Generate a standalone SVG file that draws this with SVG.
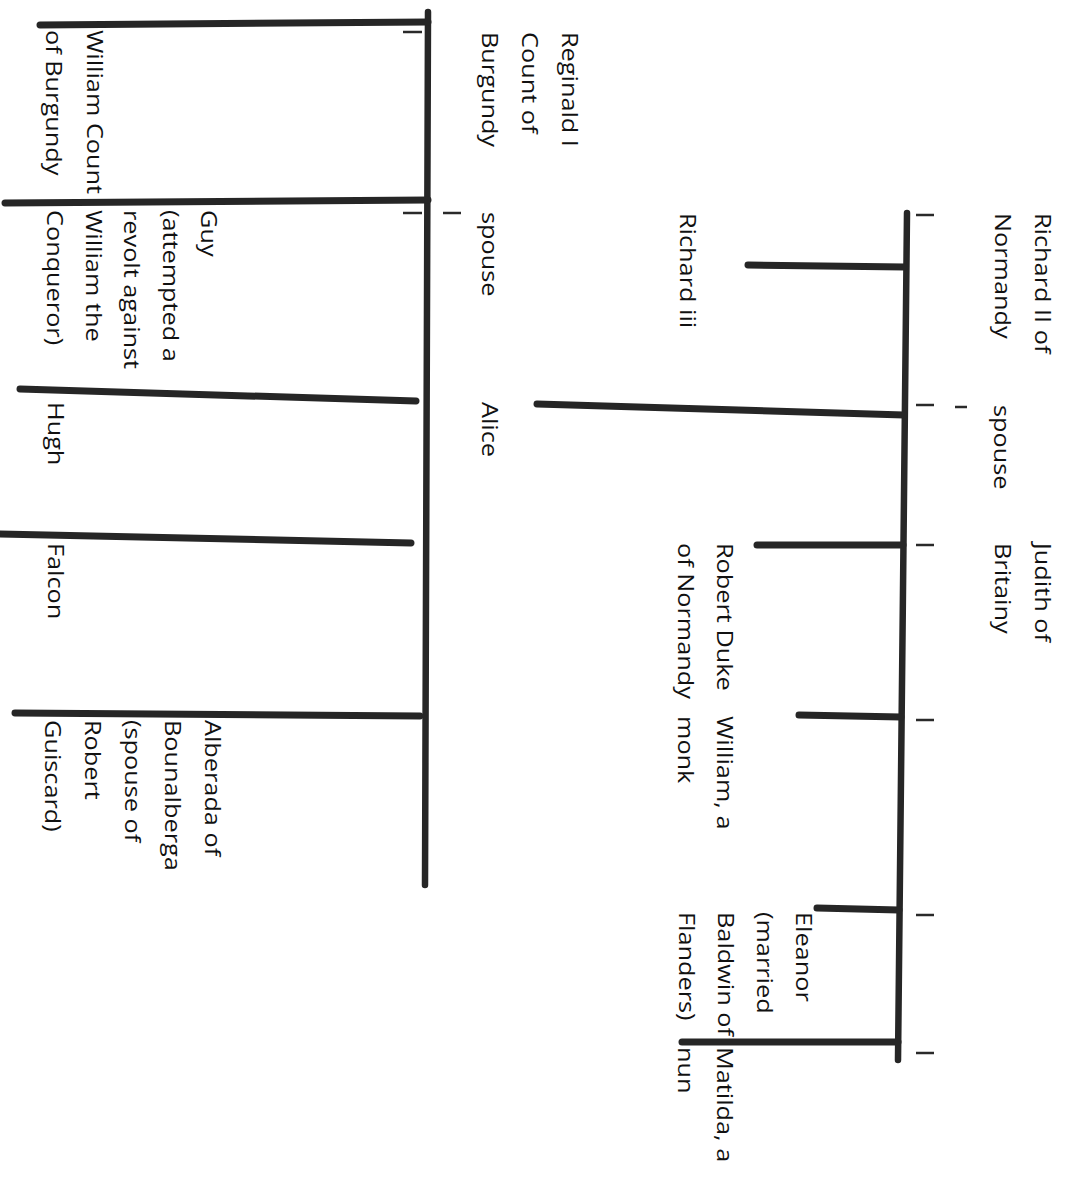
<svg xmlns="http://www.w3.org/2000/svg" width="1071" height="1184" viewBox="0 0 1071 1184">
<style>
.t{font-family:"Open Sans","Liberation Sans",sans-serif;font-size:22px;fill:#111111}
.spine{stroke:#262626;stroke-width:6.5;stroke-linecap:round;fill:none}
.br{stroke:#262626;stroke-width:7;stroke-linecap:round;fill:none}
.tick{stroke:#2a2a2a;stroke-width:2.5;fill:none}
</style>
<rect width="1071" height="1184" fill="#ffffff"/>
<g id="connectors">
  <line class="spine" x1="907" y1="213" x2="898" y2="1060"/>
  <line class="br" x1="905" y1="267" x2="748" y2="265"/>
  <line class="br" x1="904" y1="415" x2="537" y2="404"/>
  <line class="br" x1="903" y1="545" x2="757" y2="545"/>
  <line class="br" x1="901" y1="717" x2="799" y2="715"/>
  <line class="br" x1="899" y1="910" x2="817" y2="908"/>
  <line class="br" x1="898" y1="1042" x2="682" y2="1042"/>
  <line class="tick" x1="916" y1="215" x2="934" y2="215"/>
  <line class="tick" x1="916" y1="405" x2="934" y2="405"/>
  <line class="tick" x1="955" y1="407" x2="967" y2="407"/>
  <line class="tick" x1="916" y1="545" x2="934" y2="545"/>
  <line class="tick" x1="916" y1="720" x2="934" y2="720"/>
  <line class="tick" x1="916" y1="915" x2="934" y2="915"/>
  <line class="tick" x1="916" y1="1053" x2="934" y2="1053"/>
  <line class="spine" x1="428" y1="12" x2="425" y2="885"/>
  <line class="br" x1="428" y1="22" x2="40" y2="25"/>
  <line class="br" x1="428" y1="200" x2="5" y2="203"/>
  <line class="br" x1="416" y1="401" x2="20" y2="389"/>
  <line class="br" x1="411" y1="543" x2="0" y2="534"/>
  <line class="br" x1="420" y1="716" x2="15" y2="713"/>
  <line class="tick" x1="403" y1="32" x2="422" y2="32"/>
  <line class="tick" x1="403" y1="213" x2="422" y2="213"/>
  <line class="tick" x1="443" y1="213" x2="461" y2="213"/>
</g>
<g id="n-richard2"><text class="t" transform="translate(1035,213) rotate(90) scale(1.15,1)"><tspan x="0" y="0">Richard II of</tspan><tspan x="0" dy="40">Normandy</tspan></text></g>
<g id="n-spouse1"><text class="t" transform="translate(994,405) rotate(90) scale(1.15,1)">spouse</text></g>
<g id="n-judith"><text class="t" transform="translate(1035,543) rotate(90) scale(1.15,1)"><tspan x="0" y="0">Judith of</tspan><tspan x="0" dy="40">Britainy</tspan></text></g>
<g id="n-richard3"><text class="t" transform="translate(680,213) rotate(90) scale(1.15,1)">Richard iii</text></g>
<g id="n-robert"><text class="t" transform="translate(717,543) rotate(90) scale(1.15,1)"><tspan x="0" y="0">Robert Duke</tspan><tspan x="0" dy="39">of Normandy</tspan></text></g>
<g id="n-william-monk"><text class="t" transform="translate(717,716) rotate(90) scale(1.15,1)"><tspan x="0" y="0">William, a</tspan><tspan x="0" dy="39">monk</tspan></text></g>
<g id="n-eleanor"><text class="t" transform="translate(796,912) rotate(90) scale(1.15,1)"><tspan x="0" y="0">Eleanor</tspan><tspan x="0" dy="39">(married</tspan><tspan x="0" dy="39">Baldwin of</tspan><tspan x="0" dy="39">Flanders)</tspan></text></g>
<g id="n-matilda"><text class="t" transform="translate(717,1047) rotate(90) scale(1.15,1)"><tspan x="0" y="0">Matilda, a</tspan><tspan x="0" dy="39">nun</tspan></text></g>
<g id="n-reginald"><text class="t" transform="translate(562,32) rotate(90) scale(1.15,1)"><tspan x="0" y="0">Reginald I</tspan><tspan x="0" dy="40">Count of</tspan><tspan x="0" dy="40">Burgundy</tspan></text></g>
<g id="n-spouse2"><text class="t" transform="translate(482,212) rotate(90) scale(1.15,1)">spouse</text></g>
<g id="n-alice"><text class="t" transform="translate(482,402) rotate(90) scale(1.15,1)">Alice</text></g>
<g id="n-william-count"><text class="t" transform="translate(87,30) rotate(90) scale(1.15,1)"><tspan x="0" y="0">William Count</tspan><tspan x="0" dy="41">of Burgundy</tspan></text></g>
<g id="n-guy"><text class="t" transform="translate(201,210) rotate(90) scale(1.15,1)"><tspan x="0" y="0">Guy</tspan><tspan x="0" dy="38.5">(attempted a</tspan><tspan x="0" dy="38.5">revolt against</tspan><tspan x="0" dy="38.5">William the</tspan><tspan x="0" dy="38.5">Conqueror)</tspan></text></g>
<g id="n-hugh"><text class="t" transform="translate(48,402) rotate(90) scale(1.15,1)">Hugh</text></g>
<g id="n-falcon"><text class="t" transform="translate(48,543) rotate(90) scale(1.15,1)">Falcon</text></g>
<g id="n-alberada"><text class="t" transform="translate(205,720) rotate(90) scale(1.15,1)"><tspan x="0" y="0">Alberada of</tspan><tspan x="0" dy="40">Bounalberga</tspan><tspan x="0" dy="40">(spouse of</tspan><tspan x="0" dy="40">Robert</tspan><tspan x="0" dy="40">Guiscard)</tspan></text></g>
</svg>
